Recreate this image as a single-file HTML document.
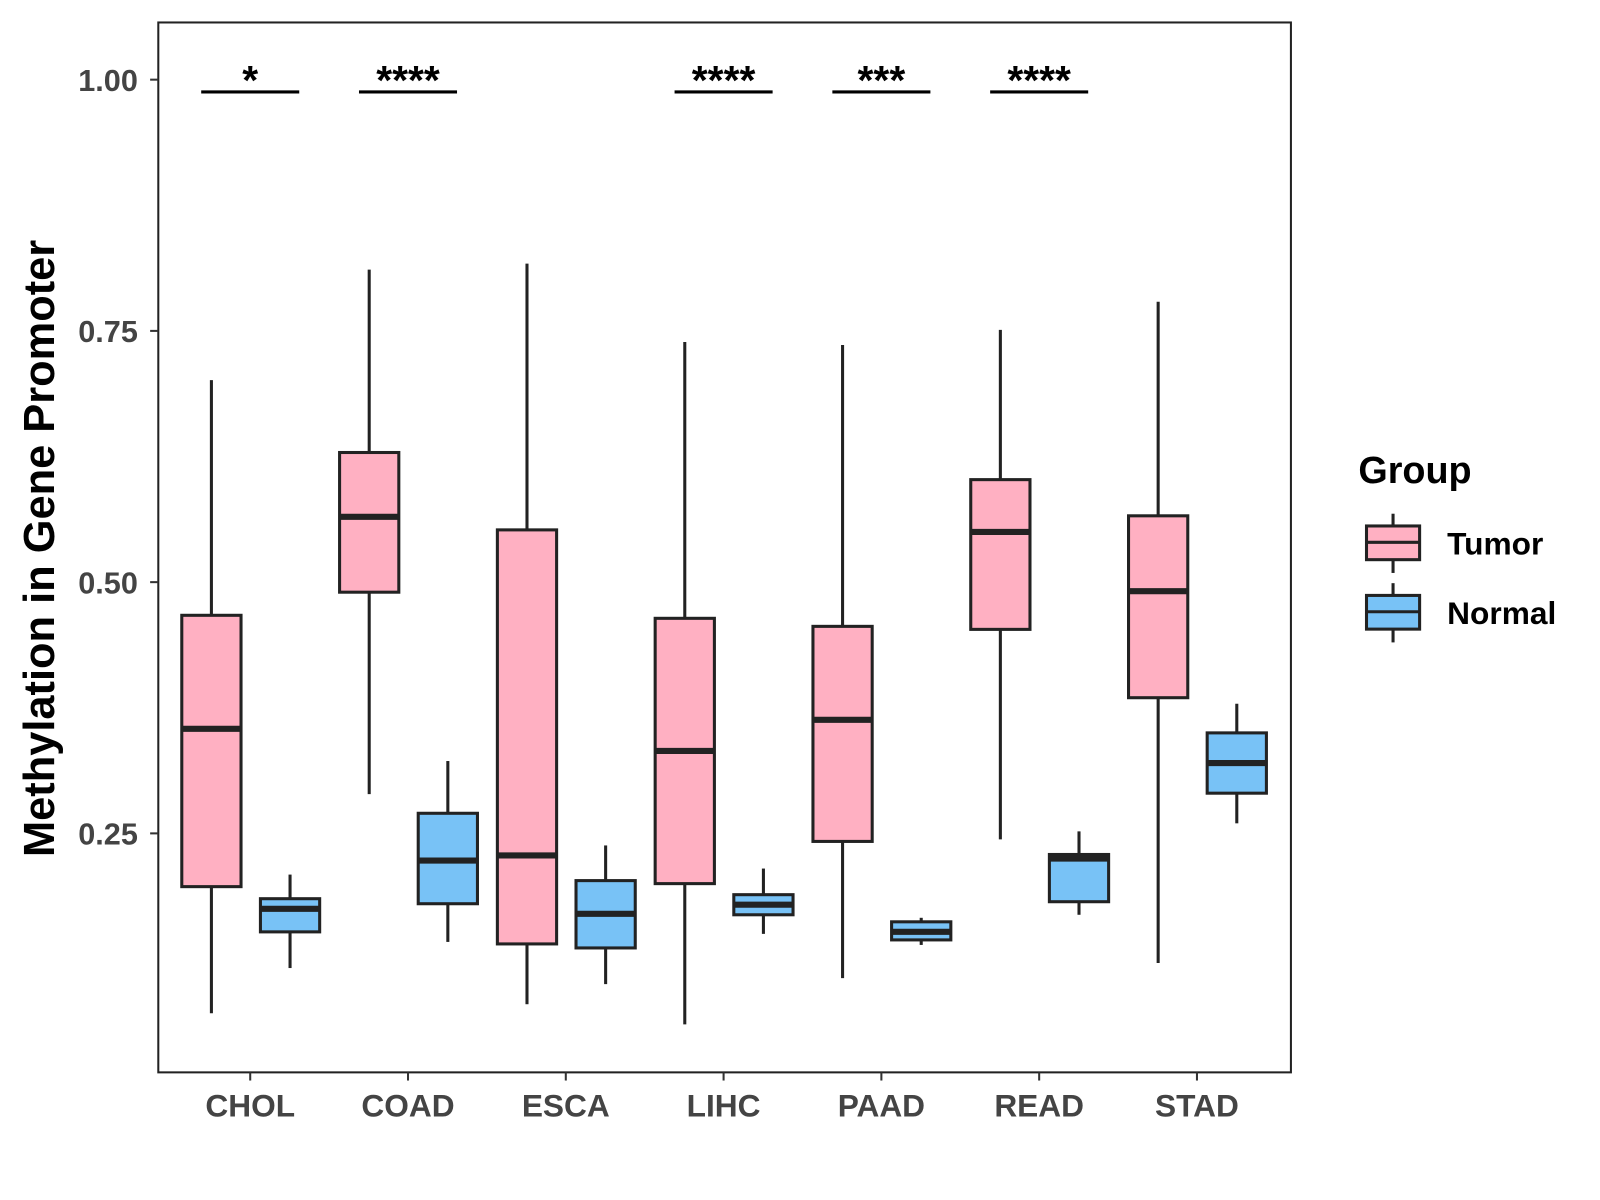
<!DOCTYPE html>
<html><head><meta charset="utf-8"><style>
html,body{margin:0;padding:0;background:#fff;}
svg{display:block;font-family:"Liberation Sans",Arial,sans-serif;}
</style></head><body>
<svg id="chart" width="1600" height="1200" viewBox="0 0 1600 1200" xmlns="http://www.w3.org/2000/svg">
<rect width="1600" height="1200" fill="#fff"/>
<g transform="scale(1.0213)">
<g id="plot"></g>
<text transform="translate(53,537) rotate(-90)" text-anchor="middle" font-size="42.5" font-weight="bold" fill="#000">Methylation in Gene Promoter</text>
<g>
<text x="1330" y="473" font-size="37" font-weight="bold">Group</text>
<g>
<line x1="1364" y1="503" x2="1364" y2="561" stroke="#222" stroke-width="3"/>
<rect x="1338" y="515" width="52" height="33" fill="#ffb0c2" stroke="#222" stroke-width="3"/>
<line x1="1338" y1="531" x2="1390" y2="531" stroke="#222" stroke-width="3"/>
<text x="1417" y="543" font-size="31" font-weight="bold">Tumor</text></g>
<g>
<line x1="1364" y1="571" x2="1364" y2="629" stroke="#222" stroke-width="3"/>
<rect x="1338" y="583" width="52" height="33" fill="#78c2f6" stroke="#222" stroke-width="3"/>
<line x1="1338" y1="599" x2="1390" y2="599" stroke="#222" stroke-width="3"/>
<text x="1417" y="611" font-size="31" font-weight="bold">Normal</text></g>
</g>
</g>
</svg>
<script>
const categories=["CHOL","COAD","ESCA","LIHC","PAAD","READ","STAD"];
// [min, q1, median, q3, max]
const tumorStats=[[0.071,0.197,0.354,0.467,0.701],[0.289,0.490,0.565,0.629,0.811],[0.080,0.140,0.228,0.552,0.817],[0.060,0.200,0.332,0.464,0.739],[0.106,0.242,0.363,0.456,0.736],[0.244,0.453,0.550,0.602,0.751],[0.121,0.385,0.491,0.566,0.779]];
const normalStats=[[0.116,0.152,0.175,0.185,0.209],[0.142,0.180,0.223,0.270,0.322],[0.100,0.136,0.170,0.203,0.238],[0.150,0.169,0.179,0.189,0.215],[0.139,0.144,0.152,0.162,0.166],[0.169,0.182,0.225,0.229,0.252],[0.260,0.290,0.320,0.350,0.379]];
const sigLabels=["*","****","","****","***","****",""];
const yTicks=[0.25,0.5,0.75,1.0];
const yTickLabels=["0.25","0.50","0.75","1.00"];
const NS="http://www.w3.org/2000/svg";
const L=155,R=1264,T=22,B=1050;
const y=v=>78+(1-v)*984;
const x=i=>245+i*154.5;
const g=document.getElementById('plot');
function el(t,a,p){const e=document.createElementNS(NS,t);for(const k in a)e.setAttribute(k,a[k]);(p||g).appendChild(e);return e;}
const panel=el('rect',{x:L,y:T,width:R-L,height:B-T,fill:'none',stroke:'#222','stroke-width':2});


yTicks.forEach((v,i)=>{
  el('line',{x1:L-8,x2:L,y1:y(v),y2:y(v),stroke:'#333','stroke-width':2});
  const t=el('text',{x:L-20,y:y(v)+11,'text-anchor':'end','font-size':30,'font-weight':'bold',fill:'#444'});
  t.textContent=yTickLabels[i];
  
  
});
categories.forEach((c,i)=>{
  el('line',{x1:x(i),x2:x(i),y1:B,y2:B+8,stroke:'#333','stroke-width':2});
  const t=el('text',{x:x(i),y:B+43,'text-anchor':'middle','font-size':31,'font-weight':'bold',fill:'#444'});
  t.textContent=c;
  
  
});
function box(cx,s,fill,name){
  const grp=el('g',{});
  
  
  const w=58;
  el('line',{x1:cx,x2:cx,y1:y(s[4]),y2:y(s[3]),stroke:'#222','stroke-width':3},grp);
  el('line',{x1:cx,x2:cx,y1:y(s[1]),y2:y(s[0]),stroke:'#222','stroke-width':3},grp);
  el('rect',{x:cx-w/2,y:y(s[3]),width:w,height:y(s[1])-y(s[3]),fill:fill,stroke:'#222','stroke-width':3},grp);
  el('line',{x1:cx-w/2,x2:cx+w/2,y1:y(s[2]),y2:y(s[2]),stroke:'#222','stroke-width':6},grp);
}
categories.forEach((c,i)=>{
  box(x(i)-38,tumorStats[i],'#ffb0c2','box-tumor-'+c.toLowerCase());
  box(x(i)+39,normalStats[i],'#78c2f6','box-normal-'+c.toLowerCase());
  if(sigLabels[i]){
    el('line',{x1:x(i)-48,x2:x(i)+48,y1:90,y2:90,stroke:'#000','stroke-width':3});
    const t=el('text',{x:x(i),y:92,'text-anchor':'middle','font-size':40,'font-weight':'bold'});
    t.textContent=sigLabels[i];
    
    
  }
});
</script>
</body></html>
